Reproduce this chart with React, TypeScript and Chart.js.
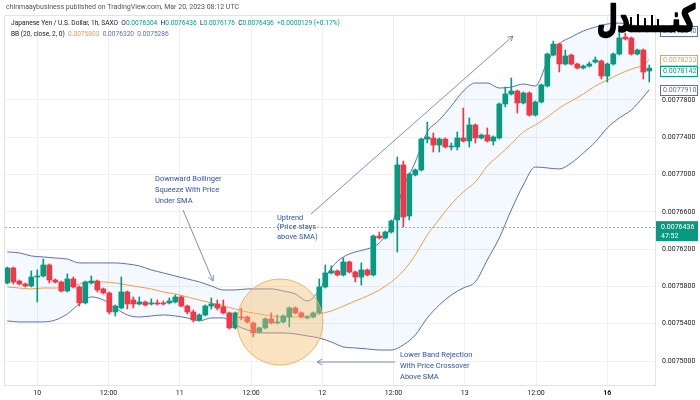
import React, { useEffect, useRef } from 'react';
import { Chart, registerables } from 'chart.js';

Chart.register(...registerables);

// ---------- DATA (JPY/USD 1h candles) ----------
const opens = [
  75837e-7, 75998e-7, 75858e-7, 75826e-7, 75805e-7, 75901e-7, 75912e-7, 76030e-7, 75869e-7, 75848e-7,
  75751e-7, 75880e-7, 75794e-7, 75623e-7, 75837e-7, 75858e-7, 75773e-7, 75730e-7, 75526e-7, 75569e-7,
  75741e-7, 75655e-7, 75612e-7, 75633e-7, 75612e-7, 75623e-7, 75623e-7, 75623e-7, 75633e-7, 75687e-7,
  75590e-7, 75526e-7, 75440e-7, 75494e-7, 75590e-7, 75612e-7, 75580e-7, 75516e-7, 75355e-7, 75472e-7,
  75472e-7, 75408e-7, 75312e-7, 75355e-7, 75451e-7, 75408e-7, 75419e-7, 75472e-7, 75569e-7, 75516e-7,
  75462e-7, 75472e-7, 75516e-7, 75794e-7, 75945e-7, 75966e-7, 75923e-7, 76062e-7, 75955e-7, 75901e-7,
  75977e-7, 75923e-7, 76341e-7, 76320e-7, 76384e-7, 76513e-7, 77103e-7, 76556e-7, 76995e-7, 77049e-7,
  77381e-7, 77392e-7, 77317e-7, 77381e-7, 77296e-7, 77296e-7, 77392e-7, 77360e-7, 77532e-7, 77392e-7,
  77424e-7, 77360e-7, 77392e-7, 77757e-7, 77864e-7, 77896e-7, 77768e-7, 77875e-7, 77638e-7, 77778e-7,
  77950e-7, 78282e-7, 78400e-7, 78186e-7, 78282e-7, 78186e-7, 78143e-7, 78164e-7, 78207e-7, 78218e-7,
  78057e-7, 78186e-7, 78293e-7, 78475e-7, 78465e-7, 78293e-7, 78336e-7, 78111e-7,
];
const highs = [
  76009e-7, 76009e-7, 75869e-7, 75837e-7, 75966e-7, 75977e-7, 76094e-7, 76041e-7, 75880e-7, 75858e-7,
  75934e-7, 75901e-7, 75805e-7, 75858e-7, 75912e-7, 75869e-7, 75783e-7, 75741e-7, 75601e-7, 75901e-7,
  75751e-7, 75687e-7, 75687e-7, 75644e-7, 75666e-7, 75655e-7, 75644e-7, 75676e-7, 75708e-7, 75698e-7,
  75601e-7, 75548e-7, 75505e-7, 75601e-7, 75676e-7, 75655e-7, 75655e-7, 75526e-7, 75526e-7, 75569e-7,
  75483e-7, 75419e-7, 75365e-7, 75462e-7, 75516e-7, 75494e-7, 75494e-7, 75580e-7, 75580e-7, 75526e-7,
  75483e-7, 75526e-7, 75880e-7, 76030e-7, 76020e-7, 75977e-7, 76105e-7, 76073e-7, 75966e-7, 76052e-7,
  75987e-7, 76352e-7, 76384e-7, 76395e-7, 76513e-7, 77188e-7, 77145e-7, 77017e-7, 77060e-7, 77392e-7,
  77564e-7, 77446e-7, 77392e-7, 77392e-7, 77338e-7, 77457e-7, 77714e-7, 77607e-7, 77542e-7, 77435e-7,
  77500e-7, 77414e-7, 77768e-7, 77939e-7, 78036e-7, 77907e-7, 77886e-7, 77886e-7, 77789e-7, 77971e-7,
  78304e-7, 78432e-7, 78411e-7, 78336e-7, 78293e-7, 78196e-7, 78175e-7, 78207e-7, 78261e-7, 78229e-7,
  78196e-7, 78304e-7, 78550e-7, 78518e-7, 78475e-7, 78347e-7, 78347e-7, 78175e-7,
];
const lows = [
  75826e-7, 75826e-7, 75815e-7, 75794e-7, 75794e-7, 75633e-7, 75901e-7, 75837e-7, 75837e-7, 75741e-7,
  75741e-7, 75783e-7, 75590e-7, 75612e-7, 75826e-7, 75741e-7, 75719e-7, 75505e-7, 75483e-7, 75558e-7,
  75558e-7, 75569e-7, 75601e-7, 75590e-7, 75601e-7, 75601e-7, 75601e-7, 75612e-7, 75623e-7, 75580e-7,
  75505e-7, 75419e-7, 75430e-7, 75483e-7, 75558e-7, 75548e-7, 75505e-7, 75344e-7, 75344e-7, 75440e-7,
  75408e-7, 75258e-7, 75301e-7, 75344e-7, 75397e-7, 75397e-7, 75408e-7, 75365e-7, 75505e-7, 75462e-7,
  75451e-7, 75462e-7, 75505e-7, 75783e-7, 75934e-7, 75912e-7, 75912e-7, 75945e-7, 75848e-7, 75815e-7,
  75912e-7, 75912e-7, 76309e-7, 76309e-7, 76373e-7, 76170e-7, 76438e-7, 76513e-7, 76985e-7, 77038e-7,
  77338e-7, 77242e-7, 77242e-7, 77285e-7, 77263e-7, 77263e-7, 77349e-7, 77296e-7, 77338e-7, 77381e-7,
  77349e-7, 77317e-7, 77381e-7, 77725e-7, 77853e-7, 77660e-7, 77757e-7, 77628e-7, 77628e-7, 77768e-7,
  77939e-7, 78272e-7, 78100e-7, 78175e-7, 78175e-7, 78132e-7, 78132e-7, 78154e-7, 78196e-7, 78025e-7,
  77993e-7, 78175e-7, 78282e-7, 78443e-7, 78282e-7, 78282e-7, 78025e-7, 77993e-7,
];
const closes = [
  75998e-7, 75848e-7, 75826e-7, 75805e-7, 75901e-7, 75912e-7, 76030e-7, 75869e-7, 75848e-7, 75751e-7,
  75880e-7, 75794e-7, 75623e-7, 75848e-7, 75858e-7, 75762e-7, 75730e-7, 75526e-7, 75590e-7, 75741e-7,
  75612e-7, 75612e-7, 75633e-7, 75601e-7, 75623e-7, 75612e-7, 75612e-7, 75644e-7, 75687e-7, 75590e-7,
  75526e-7, 75440e-7, 75494e-7, 75590e-7, 75612e-7, 75569e-7, 75516e-7, 75355e-7, 75516e-7, 75462e-7,
  75419e-7, 75301e-7, 75355e-7, 75451e-7, 75408e-7, 75419e-7, 75483e-7, 75569e-7, 75516e-7, 75472e-7,
  75472e-7, 75516e-7, 75794e-7, 75945e-7, 75966e-7, 75923e-7, 76062e-7, 75955e-7, 75901e-7, 75977e-7,
  75923e-7, 76341e-7, 76320e-7, 76384e-7, 76502e-7, 77103e-7, 76545e-7, 77006e-7, 77049e-7, 77381e-7,
  77403e-7, 77317e-7, 77381e-7, 77296e-7, 77306e-7, 77392e-7, 77360e-7, 77532e-7, 77392e-7, 77424e-7,
  77360e-7, 77403e-7, 77757e-7, 77864e-7, 77896e-7, 77768e-7, 77875e-7, 77638e-7, 77778e-7, 77961e-7,
  78293e-7, 78400e-7, 78186e-7, 78272e-7, 78186e-7, 78143e-7, 78164e-7, 78186e-7, 78229e-7, 78057e-7,
  78186e-7, 78293e-7, 78465e-7, 78454e-7, 78293e-7, 78336e-7, 78100e-7, 78142e-7,
];

// Bollinger Bands (20, close, 2) at these candle indexes
const bandIdx = [
  0, 2, 4, 6, 8, 10, 12, 14, 16, 18, 20, 22, 24, 26, 28, 30, 32, 34, 36, 38, 40, 42, 44, 46, 48, 50,
  52, 54, 56, 58, 60, 62, 64, 66, 68, 70, 72, 74, 76, 78, 80, 82, 84, 86, 88, 90, 92, 94, 96, 98, 100,
  102, 104, 106, 107,
];
const upperBand = [
  76170e-7, 76160e-7, 76127e-7, 76116e-7, 76105e-7, 76094e-7, 76052e-7, 76052e-7, 76052e-7, 76052e-7,
  76041e-7, 76020e-7, 75977e-7, 75945e-7, 75912e-7, 75880e-7, 75848e-7, 75805e-7, 75762e-7, 75762e-7,
  75773e-7, 75773e-7, 75773e-7, 75751e-7, 75719e-7, 75644e-7, 75762e-7, 75998e-7, 76116e-7, 76170e-7,
  76202e-7, 76266e-7, 76448e-7, 76856e-7, 77135e-7, 77457e-7, 77585e-7, 77735e-7, 77896e-7, 77982e-7,
  77982e-7, 77928e-7, 77939e-7, 77971e-7, 77950e-7, 78207e-7, 78400e-7, 78475e-7, 78540e-7, 78582e-7,
  78615e-7, 78625e-7, 78604e-7, 78572e-7, 78540e-7,
];
const basisSMA = [
  75794e-7, 75783e-7, 75773e-7, 75783e-7, 75783e-7, 75794e-7, 75826e-7, 75848e-7, 75848e-7, 75837e-7,
  75815e-7, 75794e-7, 75773e-7, 75741e-7, 75719e-7, 75687e-7, 75655e-7, 75623e-7, 75590e-7, 75558e-7,
  75526e-7, 75505e-7, 75483e-7, 75472e-7, 75472e-7, 75483e-7, 75505e-7, 75537e-7, 75590e-7, 75644e-7,
  75698e-7, 75762e-7, 75848e-7, 75966e-7, 76137e-7, 76352e-7, 76523e-7, 76684e-7, 76813e-7, 76920e-7,
  77092e-7, 77210e-7, 77328e-7, 77457e-7, 77532e-7, 77617e-7, 77714e-7, 77789e-7, 77864e-7, 77950e-7,
  78014e-7, 78078e-7, 78132e-7, 78175e-7, 78233e-7,
];
const lowerBand = [
  75430e-7, 75419e-7, 75419e-7, 75419e-7, 75440e-7, 75505e-7, 75612e-7, 75687e-7, 75655e-7, 75569e-7,
  75494e-7, 75472e-7, 75483e-7, 75494e-7, 75483e-7, 75462e-7, 75430e-7, 75462e-7, 75462e-7, 75387e-7,
  75333e-7, 75301e-7, 75301e-7, 75301e-7, 75290e-7, 75269e-7, 75247e-7, 75204e-7, 75151e-7, 75140e-7,
  75129e-7, 75118e-7, 75118e-7, 75172e-7, 75279e-7, 75462e-7, 75601e-7, 75708e-7, 75783e-7, 75848e-7,
  76084e-7, 76320e-7, 76620e-7, 76888e-7, 77081e-7, 77071e-7, 77060e-7, 77124e-7, 77231e-7, 77349e-7,
  77500e-7, 77607e-7, 77692e-7, 77832e-7, 77910e-7,
];

const xTickPos = [5, 16.875, 28.75, 40.625, 52.5, 64.375, 76.25, 88.125, 100];
const xTickLabels = ['10', '12:00', '11', '12:00', '12', '12:00', '13', '12:00', '16'];
const yTicks = [75000e-7, 75400e-7, 75800e-7, 76200e-7, 76600e-7, 77000e-7, 77400e-7, 77800e-7];

const currentPrice = 76436e-7;
const countdown = '47:52';
const headerText = 'chinmaaybusiness published on TradingView.com, Mar 20, 2023 08:12 UTC';
const symbolText = 'Japanese Yen / U.S. Dollar, 1h, SAXO';
const ohlcLabels = ['O', 'H', 'L', 'C'];
const ohlcValues = ['0.0076304', '0.0076436', '0.0076176', '0.0076436'];
const changeText = '+0.0000129 (+0.17%)';
const bbTitle = 'BB (20, close, 2, 0)';
const bbValues = ['0.0075803', '0.0076320', '0.0075286'];

const noteSqueeze = ['Downward Bollinger', 'Squeeze With Price', 'Under SMA'];
const noteUptrend = ['Uptrend', '(Price stays', 'above SMA)'];
const noteRejection = ['Lower Band Rejection', 'With Price Crossover', 'Above SMA'];
const logoText = 'کنـــــدل';

// ---------- STYLE ----------
const FONT = 'Roboto, "Liberation Sans", Arial, sans-serif';
const GREEN = '#089981';
const RED = '#f23645';
const BAND_BLUE = '#5a6fb3';
const ORANGE = '#ef9c4e';
const TEXT = '#131722';
const NOTE = '#2d55a5';

function arrow(ctx: CanvasRenderingContext2D, x1: number, y1: number, x2: number, y2: number, head = 6) {
  ctx.beginPath();
  ctx.moveTo(x1, y1);
  ctx.lineTo(x2, y2);
  ctx.stroke();
  const a = Math.atan2(y2 - y1, x2 - x1);
  ctx.beginPath();
  ctx.moveTo(x2 - head * Math.cos(a - 0.5), y2 - head * Math.sin(a - 0.5));
  ctx.lineTo(x2, y2);
  ctx.lineTo(x2 - head * Math.cos(a + 0.5), y2 - head * Math.sin(a + 0.5));
  ctx.stroke();
}

const overlayPlugin = {
  id: 'tvOverlay',
  beforeDatasetsDraw(chart: any) {
    const { ctx, chartArea } = chart;
    const y = Math.round(chart.scales.y.getPixelForValue(currentPrice)) + 0.5;
    ctx.save();
    ctx.strokeStyle = 'rgba(8,153,129,0.55)';
    ctx.lineWidth = 1;
    ctx.setLineDash([2, 2]);
    ctx.beginPath();
    ctx.moveTo(chartArea.left, y);
    ctx.lineTo(chartArea.right, y);
    ctx.stroke();
    ctx.restore();
  },
  afterDraw(chart: any) {
    const { ctx, chartArea } = chart;
    const ys = chart.scales.y;
    ctx.save();

    // pane border
    ctx.strokeStyle = '#e0e3eb';
    ctx.lineWidth = 1;
    ctx.strokeRect(chartArea.left - 0.5, chartArea.top + 0.5, chartArea.right - chartArea.left + 1, chartArea.bottom - chartArea.top);

    // header
    ctx.textBaseline = 'middle';
    ctx.textAlign = 'left';
    ctx.font = `7px ${FONT}`;
    ctx.fillStyle = '#50535e';
    ctx.fillText(headerText, 6, 7);

    // legend rows
    ctx.font = `6.6px ${FONT}`;
    let x = 11;
    const put = (t: string, c: string, yy: number) => {
      ctx.fillStyle = c;
      ctx.fillText(t, x, yy);
      x += ctx.measureText(t).width;
    };
    put(symbolText + '  ', TEXT, 23);
    ohlcLabels.forEach((l, i) => {
      put(l, TEXT, 23);
      put(ohlcValues[i] + '  ', GREEN, 23);
    });
    put(changeText, GREEN, 23);
    x = 11;
    put(bbTitle + '  ', TEXT, 34);
    put(bbValues[0] + '  ', ORANGE, 34);
    put(bbValues[1] + '  ', BAND_BLUE, 34);
    put(bbValues[2], BAND_BLUE, 34);

    // highlight circle
    ctx.beginPath();
    ctx.arc(280, 322, 43, 0, Math.PI * 2);
    ctx.fillStyle = 'rgba(246,190,110,0.42)';
    ctx.fill();
    ctx.strokeStyle = 'rgba(236,174,92,0.9)';
    ctx.lineWidth = 1;
    ctx.stroke();

    // notes
    ctx.font = `7.5px ${FONT}`;
    ctx.fillStyle = NOTE;
    noteSqueeze.forEach((t, i) => ctx.fillText(t, 155, 179 + i * 11));
    noteUptrend.forEach((t, i) => ctx.fillText(t, 277, 218 + i * 9.5));
    noteRejection.forEach((t, i) => ctx.fillText(t, 400, 355 + i * 11));
    ctx.strokeStyle = '#6f82b8';
    ctx.lineWidth = 0.9;
    arrow(ctx, 183, 210, 213, 281);
    arrow(ctx, 311, 214, 513, 36);
    arrow(ctx, 395, 362, 317, 362);

    // right-side value labels
    const items = [
      { v: upperBand[upperBand.length - 1], c: BAND_BLUE },
      { v: basisSMA[basisSMA.length - 1], c: ORANGE },
      { v: closes[closes.length - 1], c: GREEN },
      { v: lowerBand[lowerBand.length - 1], c: BAND_BLUE },
    ].map((d) => ({ ...d, y: ys.getPixelForValue(d.v) }));
    let prev = -100;
    ctx.font = `7px ${FONT}`;
    items.forEach((d) => {
      const yy = Math.max(d.y, prev + 11);
      prev = yy;
      ctx.fillStyle = '#ffffff';
      ctx.fillRect(660, yy - 5, 38, 10);
      ctx.strokeStyle = d.c;
      ctx.lineWidth = 1;
      ctx.strokeRect(660.5, Math.round(yy - 5) + 0.5, 37, 10);
      ctx.fillStyle = d.c;
      ctx.fillText(d.v.toFixed(7), 663, yy + 0.5);
    });

    // current price label
    const py = ys.getPixelForValue(currentPrice);
    ctx.fillStyle = GREEN;
    ctx.fillRect(656, py - 6, 42, 20);
    ctx.fillStyle = '#ffffff';
    ctx.fillText(currentPrice.toFixed(7), 661, py);
    ctx.fillText(countdown, 661, py + 9);

    // logo
    ctx.font = `bold 40px "DejaVu Sans"`;
    const w = ctx.measureText(logoText).width;
    ctx.save();
    ctx.translate(597, 31);
    ctx.scale(98 / w, 0.9);
    ctx.textBaseline = 'alphabetic';
    ctx.fillStyle = '#000000';
    ctx.strokeStyle = '#000000';
    ctx.lineWidth = 2.5;
    ctx.lineJoin = 'round';
    ctx.strokeText(logoText, 0, 0);
    ctx.fillText(logoText, 0, 0);
    ctx.restore();
    ctx.fillStyle = '#000000';
    [630, 637, 644, 651, 657].forEach((bx, i) => {
      const h = [10, 13, 9, 12, 8][i];
      ctx.fillRect(bx, 27 - h, 2, h);
    });

    ctx.restore();
  },
};

export default function App() {
  const ref = useRef<HTMLCanvasElement>(null);

  useEffect(() => {
    const idx = opens.map((_, i) => i);
    const colors = idx.map((i) => (closes[i] >= opens[i] ? GREEN : RED));
    const bandPts = (arr: number[]) => arr.map((v, k) => ({ x: bandIdx[k], y: v }));

    const chart = new Chart(ref.current as HTMLCanvasElement, {
      type: 'bar',
      data: {
        datasets: [
          {
            type: 'bar',
            data: idx.map((i) => ({ x: i, y: [opens[i], closes[i]] })) as any,
            backgroundColor: colors,
            barThickness: 5,
            minBarLength: 1,
            grouped: false,
            order: 0,
          },
          {
            type: 'bar',
            data: idx.map((i) => ({ x: i, y: [lows[i], highs[i]] })) as any,
            backgroundColor: colors,
            barThickness: 1,
            grouped: false,
            order: 1,
          },
          {
            type: 'line',
            data: bandPts(upperBand) as any,
            borderColor: BAND_BLUE,
            borderWidth: 1,
            pointRadius: 0,
            cubicInterpolationMode: 'monotone',
            fill: { target: '+2' },
            backgroundColor: 'rgba(33,150,243,0.055)',
            order: 4,
          },
          {
            type: 'line',
            data: bandPts(basisSMA) as any,
            borderColor: ORANGE,
            borderWidth: 1,
            pointRadius: 0,
            cubicInterpolationMode: 'monotone',
            fill: false,
            order: 3,
          },
          {
            type: 'line',
            data: bandPts(lowerBand) as any,
            borderColor: BAND_BLUE,
            borderWidth: 1,
            pointRadius: 0,
            cubicInterpolationMode: 'monotone',
            fill: false,
            order: 2,
          },
        ] as any,
      },
      options: {
        animation: false,
        responsive: false,
        maintainAspectRatio: false,
        layout: { padding: { left: 5, top: 15, right: 0, bottom: 0 } },
        plugins: { legend: { display: false }, tooltip: { enabled: false } },
        scales: {
          x: {
            type: 'linear',
            min: -0.383,
            max: 107.95,
            offset: false,
            afterBuildTicks: (s: any) => {
              s.ticks = xTickPos.map((v) => ({ value: v }));
            },
            afterFit: (s: any) => {
              s.height = 15;
            },
            ticks: {
              autoSkip: false,
              maxRotation: 0,
              padding: 4,
              color: TEXT,
              font: (c: any) => ({ family: FONT, size: 7, weight: xTickLabels[c.index] === '16' ? 'bold' : 'normal' }),
              callback: (_v: any, i: number) => xTickLabels[i],
            },
            grid: { color: '#eef0f5', drawTicks: false, offset: false },
            border: { display: false },
          },
          y: {
            type: 'linear',
            position: 'right',
            min: 0.00747426,
            max: 0.00787115,
            afterBuildTicks: (s: any) => {
              s.ticks = yTicks.map((v) => ({ value: v }));
            },
            afterFit: (s: any) => {
              s.width = 45;
            },
            ticks: {
              padding: 7,
              color: TEXT,
              font: { family: FONT, size: 7 },
              callback: (v: any) => Number(v).toFixed(7),
            },
            grid: { color: '#eef0f5', drawTicks: false },
            border: { display: false },
          },
        },
      } as any,
      plugins: [overlayPlugin],
    });
    return () => chart.destroy();
  }, []);

  return (
    <div style={{ position: 'fixed', left: 0, top: 0, width: 700, height: 400, background: '#ffffff' }}>
      <canvas ref={ref} width={700} height={400} style={{ display: 'block', width: 700, height: 400 }} />
    </div>
  );
}
